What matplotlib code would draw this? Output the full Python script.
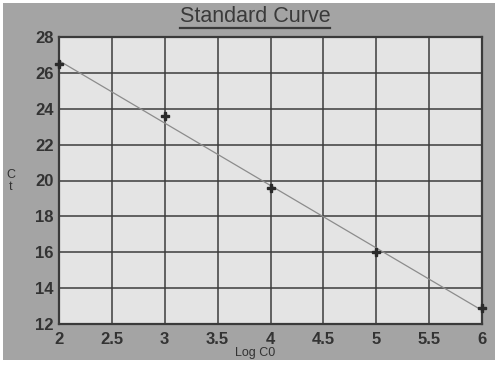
import numpy as np
import matplotlib
matplotlib.use("Agg")
import matplotlib.pyplot as plt
from matplotlib.patches import Rectangle
from matplotlib.lines import Line2D

plt.rcParams["font.family"] = ["Liberation Sans", "DejaVu Sans"]

# data
log_c0 = [2, 3, 4, 5, 6]
ct = [26.5, 23.6, 19.6, 16.0, 12.9]
x_ticks = [2, 2.5, 3, 3.5, 4, 4.5, 5, 5.5, 6]
x_tick_labels = ["2", "2.5", "3", "3.5", "4", "4.5", "5", "5.5", "6"]
y_ticks = [12, 14, 16, 18, 20, 22, 24, 26, 28]

W, H = 503, 365
fig = plt.figure(figsize=(W / 100, H / 100), dpi=100, facecolor="white")
# grey panel behind the chart (leaves a thin white border like the scan)
fig.patches.append(Rectangle((3 / W, 5 / H), 492 / W, 357 / H,
                             transform=fig.transFigure, facecolor="#a4a4a4",
                             edgecolor="none", zorder=-10))

ax = fig.add_axes([59 / W, 1 - 324 / H, 423 / W, 287 / H])
ax.set_facecolor("#e4e4e4")

slope, icpt = np.polyfit(log_c0, ct, 1)
xs = np.array([2, 6])
ax.plot(xs, slope * xs + icpt, color="#8c8c8c", lw=0.9, zorder=3)
ax.plot(log_c0, ct, linestyle="none", marker="P", color="#2a2a2a",
        markersize=5.5, clip_on=False, zorder=4)

ax.set_xlim(2, 6)
ax.set_ylim(12, 28)
ax.set_xticks(x_ticks)
ax.set_xticklabels(x_tick_labels)
ax.set_yticks(y_ticks)
ax.grid(True, color="#3c3c3c", lw=1.1)
ax.set_axisbelow(True)
for sp in ax.spines.values():
    sp.set_color("#3a3a3a")
    sp.set_linewidth(1.6)
ax.tick_params(length=0, labelsize=12, colors="#333333")
ax.tick_params(axis="x", pad=6)
ax.tick_params(axis="y", pad=4)
for lab in ax.get_xticklabels() + ax.get_yticklabels():
    lab.set_fontweight("bold")

fig.text(255 / W, 1 - 353 / H, "Log C0", ha="center", va="center",
         fontsize=9, color="#333333")
fig.text(11 / W, 1 - 181 / H, "C\nt", ha="center", va="center",
         fontsize=9, color="#333333", linespacing=1.1)

title = fig.text(255 / W, 1 - 16 / H, "Standard Curve", ha="center",
                 va="center", fontsize=15.5, color="#3a3a3a")
fig.canvas.draw()
bb = title.get_window_extent()
uy = bb.y0 - 1.0
fig.lines.append(Line2D([bb.x0 / W, bb.x1 / W], [uy / H, uy / H],
                        transform=fig.transFigure, color="#3a3a3a", lw=1.6))

fig.savefig("out.png", dpi=100, facecolor=fig.get_facecolor())
